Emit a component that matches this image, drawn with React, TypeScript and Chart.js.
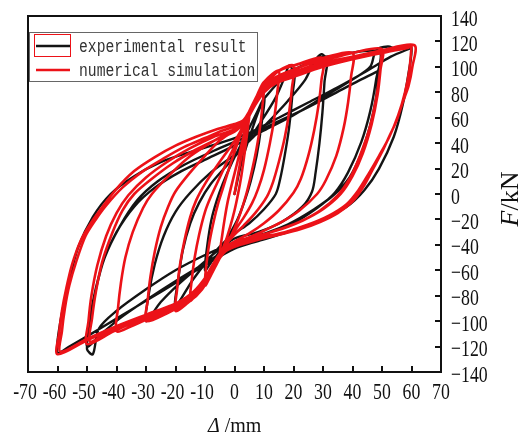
import React, { useEffect, useRef } from "react";
import { Chart, registerables } from "chart.js";

Chart.register(...registerables);

type P = [number, number];

const xTicks = [-70, -60, -50, -40, -30, -20, -10, 0, 10, 20, 30, 40, 50, 60, 70];
const yTicks = [-140, -120, -100, -80, -60, -40, -20, 0, 20, 40, 60, 80, 100, 120, 140];
const seriesNames = ["experimental result", "numerical simulation"];
const xTitle = { symbol: "Δ", unit: " /mm" };
const yTitle = { symbol: "F", unit: "/kN" };

// numerical simulation loops (displacement mm, force kN)
const simStart: P[] = [[0, 0], [2.5, 32]];
const sim05: P[] = [[5, 62], [4.2, 46], [3.3, 30], [2.3, 14], [1.2, 0], [0, -13], [-1.5, -26], [-3, -37], [-5, -48], [-4.2, -33], [-3.3, -19], [-2.3, -6], [-1.2, 5], [0, 16], [1.5, 30], [3, 45], [5, 62]];
const sim10: P[] = [[10, 88], [9.5, 70], [8.5, 50], [7, 30], [5.3, 12], [4, 0], [2, -15], [0, -27], [-2, -37], [-4, -46], [-6, -55], [-8, -64], [-10, -72], [-9.5, -55], [-8.5, -38], [-7, -21], [-5.5, -7], [-4, 4], [-2, 19], [0, 33], [2, 46], [4, 57], [6, 68], [8, 78], [10, 88]];
const sim15: P[] = [[15, 97], [14.5, 80], [13.5, 60], [12, 40], [10, 19], [8, 4], [6, -7], [3, -19], [0, -29], [-3, -39], [-6, -51], [-9, -64], [-12, -75], [-15, -84], [-14.5, -68], [-13.5, -50], [-12, -32], [-10, -14], [-8, -2], [-5, 13], [-2, 28], [1, 42], [3, 52], [6, 66], [9, 79], [12, 90], [15, 97]];
const sim20: P[] = [[20, 101], [19.5, 84], [18.5, 64], [17, 44], [15, 25], [13, 9], [11, -2], [7, -15], [3, -25], [0, -32], [-3, -40], [-6, -52], [-9, -65], [-12, -77], [-16, -86], [-20, -92], [-19.5, -76], [-18.5, -56], [-17, -37], [-15, -18], [-13, -5], [-10, 8], [-6, 22], [-2, 35], [1, 45], [4, 58], [7, 72], [10, 85], [14, 95], [17, 99], [20, 101]];
const sim30: P[] = [[30, 107], [29.5, 90], [28.5, 70], [27, 50], [25, 30], [22.5, 12], [20, 1], [15, -13], [10, -23], [5, -31], [1, -36], [-3, -42], [-6, -52], [-9, -66], [-12, -76], [-17, -86], [-23, -94], [-30, -100], [-29.5, -85], [-28.5, -65], [-27, -45], [-25, -26], [-22.5, -10], [-20, 2], [-15, 17], [-10, 30], [-5, 42], [0, 50], [3, 56], [6, 70], [9, 83], [12, 92], [16, 98], [20, 101], [25, 104], [30, 107]];
const sim40: P[] = [[40, 111], [39.5, 92], [38.5, 72], [37, 52], [34.5, 30], [31, 11], [28, 0], [22, -13], [16, -22], [9, -30], [3, -36], [-2, -42], [-5, -50], [-8, -63], [-11, -75], [-15, -84], [-20, -90], [-25, -95], [-30, -99], [-35, -104], [-40, -108], [-39.5, -90], [-38.5, -70], [-37, -50], [-34.5, -30], [-31, -11], [-28, 0], [-22, 15], [-16, 28], [-9, 39], [-3, 47], [1, 52], [4, 60], [7, 73], [10, 84], [14, 92], [20, 98], [25, 102], [30, 105], [35, 108], [40, 111]];
const sim50a: P[] = [[50, 114], [49.5, 98], [48.5, 78], [46.5, 55], [43.5, 32], [40, 14], [36, 0], [30, -12], [23, -21], [15, -28], [7, -34], [1, -38], [-3, -43], [-6, -52], [-9, -64], [-12, -75], [-17, -85], [-25, -93], [-33, -100], [-41, -108], [-50, -118], [-49.5, -100], [-48.5, -80], [-46.5, -56], [-43.5, -33], [-40, -15], [-36, -1], [-30, 13], [-23, 25], [-15, 36], [-7, 45], [0, 51], [4, 60], [7, 72], [10, 83], [14, 90], [20, 96], [30, 103], [40, 108], [50, 113]];
const sim50b: P[] = [[50, 113], [49.3, 96], [48, 75], [45.8, 52], [42.5, 30], [39, 12], [35, -1], [29, -13], [22, -22], [14, -29], [6, -34], [0, -38], [-4, -44], [-7, -54], [-10, -66], [-14, -77], [-19, -85], [-27, -93], [-35, -101], [-43, -109], [-49, -116], [-48.3, -98], [-47, -77], [-44.8, -53], [-41.5, -31], [-38, -13], [-34, 0], [-28, 12], [-21, 24], [-13, 35], [-6, 43], [0, 49], [4, 58], [7, 70], [10, 81], [14, 88], [20, 94], [30, 101], [40, 107], [50, 113]];
const sim60a: P[] = [[61, 117], [60.3, 100], [59, 85], [57, 72], [55, 58], [52.6, 46], [50, 33], [47, 20], [43.5, 5], [40, -6], [35, -15], [29, -22], [22, -28], [15, -32], [8, -36], [2, -40], [-3, -45], [-6, -54], [-9, -65], [-12, -75], [-16, -83], [-22, -89], [-30, -96], [-40, -105], [-50, -115], [-60, -126], [-59.5, -110], [-58.5, -92], [-57, -74], [-55, -55], [-52, -36], [-49, -24], [-46, -14], [-40, 4], [-34, 18], [-27, 29], [-20, 38], [-13, 45], [-6, 51], [0, 55], [3, 58], [5, 65], [8, 77], [11, 86], [15, 92], [20, 96], [30, 103], [40, 108], [50, 112], [60, 116]];
const sim60b: P[] = [[60, 116], [59.3, 98], [57.8, 80], [55.5, 62], [52.5, 45], [49, 30], [45.5, 16], [42, 3], [38, -8], [32, -17], [25, -24], [17, -30], [9, -34], [2, -38], [-3, -44], [-6, -53], [-9, -64], [-12, -74], [-16, -82], [-22, -88], [-30, -95], [-40, -104], [-50, -114], [-59, -124], [-58.5, -108], [-57.5, -90], [-56, -72], [-53.5, -52], [-50.5, -33], [-47, -20], [-43.5, -9], [-38, 5], [-31, 18], [-24, 28], [-17, 37], [-10, 44], [-4, 50], [1, 54], [4, 59], [7, 70], [10, 80], [14, 87], [20, 92], [30, 100], [40, 106], [50, 111], [59, 115]];

// experimental loops
const expStart: P[] = [[0, 0], [3, 30]];
const exp10: P[] = [[10, 75], [9, 52], [7.5, 30], [5.5, 10], [3.5, -5], [1, -20], [-2, -33], [-5, -45], [-8, -54], [-10, -60], [-9.2, -40], [-7.8, -20], [-6, -5], [-4, 8], [-1, 24], [2, 38], [5, 52], [8, 66], [10, 75]];
const exp20: P[] = [[20, 98], [19.5, 75], [18.5, 52], [17, 30], [15.5, 12], [14, 0], [10, -12], [5, -23], [0, -31], [-4, -39], [-9, -52], [-14, -67], [-20, -88], [-19, -66], [-17.5, -44], [-15, -23], [-12, -7], [-8, 8], [-2, 24], [4, 40], [9, 57], [14, 76], [17, 92], [18.5, 101], [20, 98]];
const exp30: P[] = [[31, 108], [30.5, 88], [29.8, 64], [28.8, 40], [27.5, 17], [26.3, 2], [23, -10], [16, -22], [8, -30], [0, -35], [-6, -45], [-12, -57], [-19, -71], [-25, -85], [-30, -100], [-29, -78], [-27, -55], [-24, -33], [-20, -14], [-15, 1], [-8, 17], [0, 31], [6, 44], [12, 58], [18, 73], [24, 90], [27, 104], [29.5, 110], [31, 108]];
const exp50a: P[] = [[49, 112], [48, 90], [46, 65], [43, 41], [38.5, 17], [34, 1], [28, -11], [19, -24], [9, -32], [0, -38], [-10, -48], [-20, -60], [-30, -75], [-40, -92], [-46, -106], [-48, -126], [-50, -122], [-49, -100], [-47, -75], [-44, -50], [-39, -26], [-33, -5], [-26, 10], [-17, 23], [-7, 34], [3, 44], [13, 55], [23, 66], [33, 78], [42, 89], [49, 97]];
const exp50b: P[] = [[49, 97], [48, 76], [46, 54], [43, 32], [39, 13], [34, 0], [27, -12], [18, -24], [8, -33], [0, -40], [-9, -53], [-19, -67], [-29, -82], [-39, -98], [-46, -112], [-50, -120], [-49, -98], [-47, -74], [-44, -50], [-40, -30], [-34, -10], [-27, 5], [-18, 18], [-9, 28], [0, 38], [10, 50], [20, 62], [30, 76], [40, 90], [46, 100], [48, 113], [52, 116], [55, 114]];
const exp60: P[] = [[58, 116], [60, 115], [59, 95], [57, 70], [54, 45], [49, 20], [44, 3], [38, -10], [28, -22], [18, -30], [8, -37], [0, -43], [-10, -56], [-20, -70], [-30, -84], [-40, -98], [-50, -112], [-56, -120], [-60, -125], [-59, -100], [-56, -68], [-53, -42], [-48, -18], [-42, 0], [-34, 14], [-25, 25], [-15, 33], [-5, 40], [5, 48], [15, 60], [25, 72], [35, 84], [45, 97], [53, 108], [60, 115]];

const simPath: P[] = [...simStart, ...sim05, ...sim10, ...sim15, ...sim20, ...sim30, ...sim40, ...sim50a, ...sim50b, ...sim60a, ...sim60b];
const expPath: P[] = [...expStart, ...exp10, ...exp20, ...exp30, ...exp50a, ...exp50b, ...exp60];

const RED = "rgb(236,18,24)";
const BLACK = "#141414";

const toXY = (p: P[]) => p.map(([x, y]) => ({ x, y }));

function drawCondensed(ctx: CanvasRenderingContext2D, text: string, x: number, y: number, sx: number) {
  ctx.save();
  ctx.translate(x, y);
  ctx.scale(sx, 1);
  ctx.fillText(text, 0, 0);
  ctx.restore();
}

const decorPlugin = {
  id: "decor",
  afterDraw(chart: any) {
    const { ctx, chartArea: a, scales } = chart;
    const xs = scales.x;
    const ys = scales.y;
    ctx.save();

    // frame
    ctx.strokeStyle = "#111";
    ctx.lineWidth = 2;
    ctx.strokeRect(a.left, a.top, a.right - a.left, a.bottom - a.top);

    // inward ticks
    ctx.beginPath();
    xTicks.forEach((v) => {
      const px = Math.round(xs.getPixelForValue(v));
      ctx.moveTo(px, a.bottom);
      ctx.lineTo(px, a.bottom - 6);
    });
    yTicks.forEach((v) => {
      const py = Math.round(ys.getPixelForValue(v));
      ctx.moveTo(a.right, py);
      ctx.lineTo(a.right - 6, py);
    });
    ctx.stroke();

    // tick labels
    const sx = 0.74;
    ctx.fillStyle = "#111";
    ctx.font = "24px 'Liberation Serif'";
    ctx.textBaseline = "alphabetic";
    ctx.textAlign = "left";
    xTicks.forEach((v) => {
      const px = xs.getPixelForValue(v);
      const label = String(v);
      const digits = String(Math.abs(v));
      const dw = ctx.measureText(digits).width * sx;
      const fw = ctx.measureText(label).width * sx;
      drawCondensed(ctx, label, px + dw / 2 - fw, a.bottom + 27, sx);
    });
    yTicks.forEach((v) => {
      const py = ys.getPixelForValue(v);
      const label = v < 0 ? "\u2212" + Math.abs(v) : String(v);
      drawCondensed(ctx, label, a.right + 10, py + 9.5, sx);
    });

    // x title
    ctx.font = "italic 20px 'Liberation Serif'";
    ctx.fillText(xTitle.symbol, 208, 432);
    const sw = ctx.measureText(xTitle.symbol).width;
    ctx.font = "20px 'Liberation Serif'";
    ctx.fillText(xTitle.unit, 208 + sw, 432);

    // y title (rotated)
    ctx.save();
    ctx.translate(518, 199);
    ctx.rotate(-Math.PI / 2);
    ctx.font = "italic 26px 'Liberation Serif'";
    const fW = ctx.measureText(yTitle.symbol).width;
    ctx.font = "26px 'Liberation Serif'";
    const uW = ctx.measureText(yTitle.unit).width;
    const start = -(fW + uW) / 2;
    ctx.font = "italic 26px 'Liberation Serif'";
    ctx.fillText(yTitle.symbol, start, 0);
    ctx.font = "26px 'Liberation Serif'";
    ctx.fillText(yTitle.unit, start + fW, 0);
    ctx.restore();

    // legend
    ctx.fillStyle = "#fff";
    ctx.fillRect(29.5, 32.5, 228, 49);
    ctx.strokeStyle = "#666";
    ctx.lineWidth = 1;
    ctx.strokeRect(29.5, 32.5, 228, 49);
    ctx.strokeStyle = RED;
    ctx.strokeRect(34.5, 34.5, 36, 22);
    ctx.lineWidth = 2.5;
    ctx.strokeStyle = BLACK;
    ctx.beginPath();
    ctx.moveTo(36, 46);
    ctx.lineTo(70, 46);
    ctx.stroke();
    ctx.strokeStyle = RED;
    ctx.beginPath();
    ctx.moveTo(36, 70);
    ctx.lineTo(70, 70);
    ctx.stroke();
    ctx.fillStyle = "#333";
    ctx.font = "17.5px 'Liberation Mono'";
    drawCondensed(ctx, seriesNames[0], 79, 52, 0.84);
    drawCondensed(ctx, seriesNames[1], 79, 76, 0.84);

    ctx.restore();
  },
};

export default function App() {
  const ref = useRef<HTMLCanvasElement | null>(null);
  useEffect(() => {
    if (!ref.current) return;
    const chart = new Chart(ref.current, {
      type: "scatter",
      data: {
        datasets: [
          {
            label: seriesNames[0],
            data: toXY(expPath),
            showLine: true,
            borderColor: BLACK,
            backgroundColor: BLACK,
            borderWidth: 2.4,
            pointRadius: 0,
            tension: 0.3,
            order: 1,
          },
          {
            label: seriesNames[1],
            data: toXY(simPath),
            showLine: true,
            borderColor: RED,
            backgroundColor: RED,
            borderWidth: 2.6,
            pointRadius: 0,
            tension: 0.3,
            order: 0,
          },
        ],
      },
      options: {
        responsive: false,
        animation: false,
        devicePixelRatio: 1,
        layout: { padding: { left: 28, top: 16, right: 0, bottom: 0 } },
        plugins: { legend: { display: false }, tooltip: { enabled: false } },
        elements: { line: { borderJoinStyle: "round", borderCapStyle: "round" } },
        scales: {
          x: {
            type: "linear",
            position: "bottom",
            min: -70,
            max: 70,
            ticks: { display: false, stepSize: 10 },
            grid: { display: false },
            border: { display: false },
            afterFit: (s: any) => {
              s.height = 62;
            },
          },
          y: {
            type: "linear",
            position: "right",
            min: -140,
            max: 140,
            ticks: { display: false, stepSize: 20 },
            grid: { display: false },
            border: { display: false },
            afterFit: (s: any) => {
              s.width = 79;
            },
          },
        },
      },
      plugins: [decorPlugin],
    } as any);
    return () => chart.destroy();
  }, []);
  return (
    <div style={{ position: "absolute", left: 0, top: 0, width: 520, height: 434, background: "#fff" }}>
      <canvas ref={ref} width={520} height={434} />
    </div>
  );
}
